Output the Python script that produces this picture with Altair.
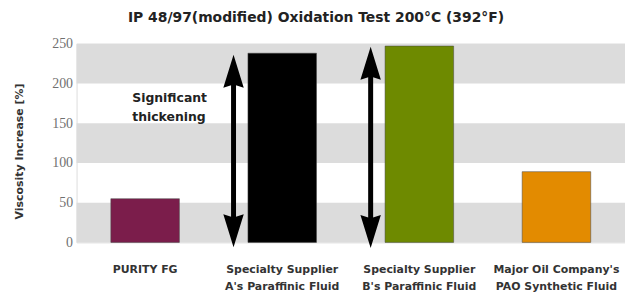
import altair as alt
import pandas as pd

# ---- data ----
categories = [
    "PURITY FG",
    "Specialty Supplier|A's Paraffinic Fluid",
    "Specialty Supplier|B's Paraffinic Fluid",
    "Major Oil Company's|PAO Synthetic Fluid",
]
values = [55, 238, 247, 89]
bar_colors = ["#7b1d4b", "#000000", "#6e8a00", "#e38b00"]

band_lo = [0, 100, 200]
band_hi = [50, 150, 250]

arrow_cats = [categories[1], categories[2]]
arrow_lo = [-6, -7]
arrow_hi = [236, 246]

note_lines = ["Significant", "thickening"]
note_y = [182, 158]

y_ticks = [0, 50, 100, 150, 200, 250]

TITLE = "IP 48/97(modified) Oxidation Test 200\u00b0C (392\u00b0F)"
Y_TITLE = "Viscosity Increase [%]"

W, H = 552, 200

bars_df = pd.DataFrame({"cat": categories, "value": values})
bands_df = pd.DataFrame({"lo": band_lo, "hi": band_hi})
arrows_df = pd.DataFrame({"cat": arrow_cats, "lo": arrow_lo, "hi": arrow_hi})
note_df = pd.DataFrame({"cat": [categories[0]] * len(note_lines), "line": note_lines, "y": note_y})

yscale = alt.Scale(domain=[0, 250], nice=False)
xscale = alt.Scale(domain=categories, paddingInner=0.5, paddingOuter=0.25)

x_axis = alt.Axis(
    title=None, labelAngle=0, ticks=False, domain=False,
    labelExpr="split(datum.label, '|')",
    labelFont="DejaVu Sans", labelFontWeight="bold", labelFontSize=11,
    labelColor="#333333", labelPadding=21, labelLineHeight=17,
)
y_axis = alt.Axis(
    title=Y_TITLE, values=y_ticks, tickCount=len(y_ticks), ticks=False,
    domain=False, grid=False, labelOverlap=False, labelFlush=False,
    labelFont="Liberation Serif", labelFontSize=14, labelColor="#707070",
    labelPadding=4,
    titleFont="DejaVu Sans", titleFontWeight="bold", titleFontSize=11,
    titleColor="#333333", titleX=-57, titleY=108, titleAngle=-90,
    titleAlign="center", titleBaseline="middle",
)

bands = alt.Chart(bands_df).mark_rect(color="#dcdcdc").encode(
    x=alt.value(0), x2=alt.value(W),
    y=alt.Y("lo:Q", scale=yscale, axis=y_axis), y2="hi:Q",
)

bars = alt.Chart(bars_df).mark_bar(
    stroke="#444444", strokeWidth=1, strokeOpacity=0.5
).encode(
    x=alt.X("cat:N", scale=xscale, sort=categories, axis=x_axis),
    y=alt.Y("value:Q", scale=yscale, axis=y_axis),
    color=alt.Color("cat:N", scale=alt.Scale(domain=categories, range=bar_colors), legend=None),
)

shaft = alt.Chart(arrows_df).transform_calculate(
    a="datum.lo + 20", b="datum.hi - 20"
).mark_rule(color="black", strokeWidth=5, xOffset=-49).encode(
    x=alt.X("cat:N", scale=xscale, sort=categories),
    y=alt.Y("a:Q", scale=yscale), y2="b:Q",
)

head_up = alt.Chart(arrows_df).mark_point(
    shape="M0,0L0.62,2L0,1.8L-0.62,2Z", filled=True, color="black",
    opacity=1, size=1100, strokeWidth=0, xOffset=-49,
).encode(
    x=alt.X("cat:N", scale=xscale, sort=categories),
    y=alt.Y("hi:Q", scale=yscale),
)

head_down = alt.Chart(arrows_df).mark_point(
    shape="M0,0L0.62,-2L0,-1.8L-0.62,-2Z", filled=True, color="black",
    opacity=1, size=1100, strokeWidth=0, xOffset=-49,
).encode(
    x=alt.X("cat:N", scale=xscale, sort=categories),
    y=alt.Y("lo:Q", scale=yscale),
)

note = alt.Chart(note_df).mark_text(
    align="left", baseline="middle", font="DejaVu Sans", fontWeight="bold",
    fontSize=12.5, color="#222222", xOffset=-13,
).encode(
    x=alt.X("cat:N", scale=xscale, sort=categories),
    y=alt.Y("y:Q", scale=yscale),
    text="line:N",
)

chart = alt.layer(bands, bars, shaft, head_up, head_down, note).properties(
    width=W, height=H,
    title=alt.Title(
        TITLE, font="DejaVu Sans", fontWeight="bold", fontSize=14,
        color="#222222", anchor="middle", dx=-35, offset=12,
    ),
    padding={"left": 69, "top": 35, "right": 0, "bottom": 50},
    autosize=alt.AutoSizeParams(type="none"),
).configure_view(stroke=None).configure(background="white")

chart.save("out.html", embed_options={"renderer": "svg", "actions": False})
